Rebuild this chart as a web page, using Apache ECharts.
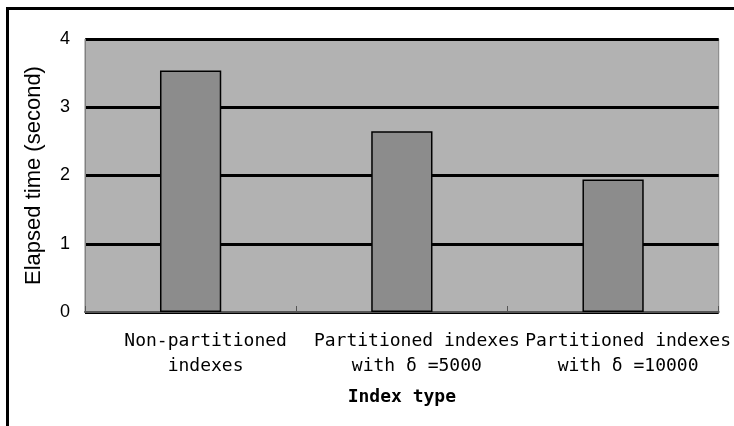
<!DOCTYPE html>
<html>
<head>
<meta charset="utf-8">
<script src="https://cdn.jsdelivr.net/npm/echarts@6/dist/echarts.min.js"></script>
<style>
  html, body { margin: 0; padding: 0; background: #fff; }
  #chart { width: 734px; height: 426px; }
</style>
</head>
<body>
<div id="chart"></div>
<script>
// elapsed time per index type
const categories = [
  'Non-partitioned\nindexes',
  'Partitioned indexes\nwith δ =5000',
  'Partitioned indexes\nwith δ =10000'
]
const elapsed = [3.54, 2.65, 1.94]
const yTicks = [0, 1, 2, 3, 4]

const chart = echarts.init(document.getElementById('chart'))

chart.setOption({
  animation: false,
  backgroundColor: '#fff',
  grid: {
    left: 85,
    right: 15,
    top: 39,
    bottom: 114,
    show: true,
    backgroundColor: '#b2b2b2',
    borderColor: '#808080',
    borderWidth: 1
  },
  graphic: [
    { type: 'line', shape: { x1: 6, y1: 8.5, x2: 734, y2: 8.5 }, style: { stroke: '#000', lineWidth: 3 } },
    { type: 'line', shape: { x1: 7.5, y1: 7, x2: 7.5, y2: 426 }, style: { stroke: '#000', lineWidth: 3 } }
  ],
  xAxis: {
    type: 'category',
    data: categories,
    name: 'Index type',
    nameLocation: 'middle',
    nameGap: 76,
    nameTextStyle: {
      fontFamily: 'DejaVu Sans Mono',
      fontSize: 18,
      fontWeight: 'bold',
      color: '#000'
    },
    axisLine: { lineStyle: { color: '#555', width: 2 } },
    axisTick: { show: true, inside: true, length: 6, lineStyle: { color: '#555' } },
    axisLabel: {
      interval: 0,
      margin: 17,
      fontFamily: 'DejaVu Sans Mono',
      fontSize: 18,
      lineHeight: 25,
      color: '#000',
      padding: [0, 0, 0, 30]
    }
  },
  yAxis: {
    type: 'value',
    min: yTicks[0],
    max: yTicks[yTicks.length - 1],
    interval: 1,
    name: 'Elapsed time (second)',
    nameLocation: 'middle',
    nameGap: 40,
    nameTextStyle: {
      fontFamily: 'Liberation Sans',
      fontSize: 22,
      color: '#000'
    },
    axisLine: { show: true, lineStyle: { color: '#808080', width: 1 } },
    axisTick: { show: false },
    axisLabel: {
      margin: 15,
      fontFamily: 'Liberation Sans',
      fontSize: 18,
      color: '#000'
    },
    splitLine: { show: true, lineStyle: { color: '#000', width: 3 } }
  },
  series: [
    {
      type: 'bar',
      data: elapsed,
      barWidth: '29%',
      itemStyle: { color: '#8c8c8c', borderColor: '#000', borderWidth: 1.5 }
    }
  ]
})
</script>
</body>
</html>
